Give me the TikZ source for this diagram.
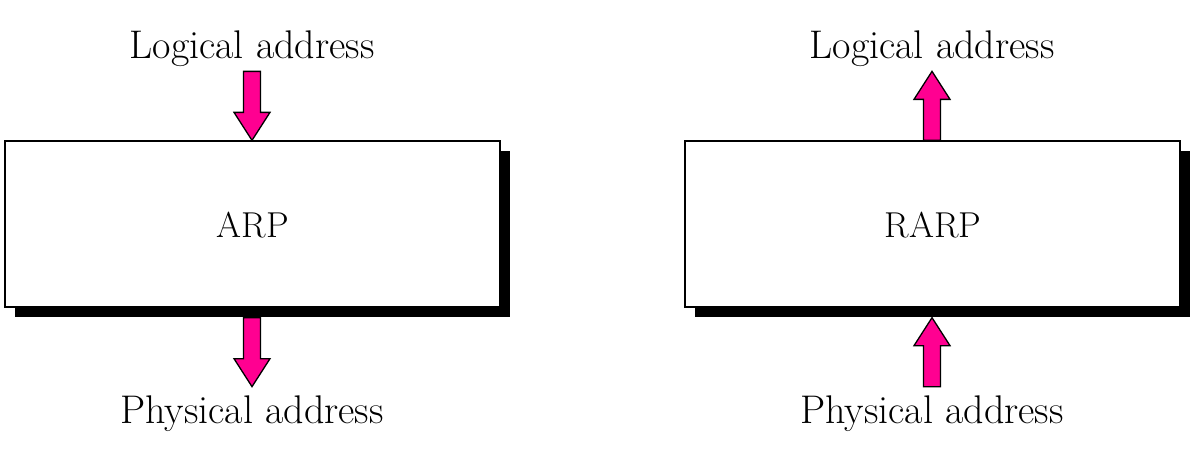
\documentclass[tikz,border=0pt]{standalone}
\usetikzlibrary{calc}
\definecolor{arrowpink}{RGB}{255,0,145}
\tikzset{
  box/.style={draw=black, line width=1.3pt, fill=white, minimum width=495pt, minimum height=166pt, inner sep=0pt},
  shadowbox/.style={fill=black},
  lbl/.style={inner sep=0pt, anchor=base, font=\fontsize{40}{44}\selectfont},
  boxlbl/.style={inner sep=0pt, anchor=base, font=\fontsize{36}{40}\selectfont},
  fat/.style={draw=black, line width=1.3pt, fill=arrowpink, line join=miter},
  downarrow/.pic={\draw[fat] (-8.5,0) -- (-8.5,41) -- (-18,41) -- (0,69) -- (18,41) -- (8.5,41) -- (8.5,0) -- cycle;},
  uparrow/.pic={\draw[fat] (0,0) -- (-18,28) -- (-8.5,28) -- (-8.5,69) -- (8.5,69) -- (8.5,28) -- (18,28) -- cycle;}
}
\begin{document}
\begin{tikzpicture}[x=1pt,y=-1pt]
\useasboundingbox (0,0) rectangle (1196,450);
% shadows
\fill[shadowbox] (15,151) rectangle (510,317);
\fill[shadowbox] (695,151) rectangle (1190,317);
% boxes
\node[box] (arp) at (252.5,224) {};
\node[box] (rarp) at (932.5,224) {};
\node[boxlbl] (arpt) at (253,237) {ARP};
\node[boxlbl] (rarpt) at (933,237) {RARP};
% labels
\node[lbl] (l1) at (252,58) {Logical address};
\node[lbl] (l2) at (932,58) {Logical address};
\node[lbl] (p1) at (252,423) {Physical address};
\node[lbl] (p2) at (932,423) {Physical address};
% arrows
\coordinate (a1) at ($(arp.north)+(-0.5,-69)$);
\coordinate (a2) at ($(arp.south)+(-0.5,10)$);
\coordinate (a3) at ($(rarp.north)+(-0.5,-69)$);
\coordinate (a4) at ($(rarp.south)+(-0.5,10)$);
\pic at (a1) {downarrow};
\pic at (a2) {downarrow};
\pic at (a3) {uparrow};
\pic at (a4) {uparrow};
\end{tikzpicture}
\end{document}
